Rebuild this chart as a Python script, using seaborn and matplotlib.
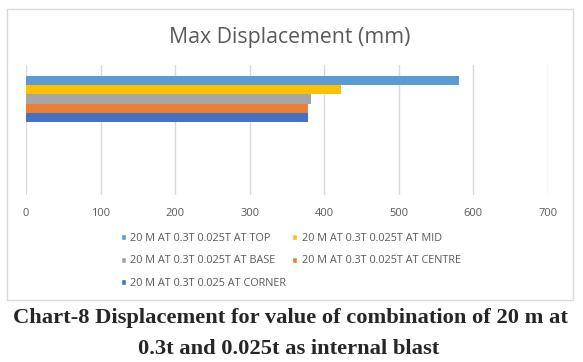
import pandas as pd
import seaborn as sns
import matplotlib.pyplot as plt
from matplotlib.patches import Rectangle, Patch

# данные
series = ['20 M AT 0.3T 0.025T AT TOP', '20 M AT 0.3T 0.025T AT MID',
          '20 M AT 0.3T 0.025T AT BASE', '20 M AT 0.3T 0.025T AT CENTRE',
          '20 M AT 0.3T 0.025 AT CORNER']
values = [581, 423, 382, 378, 378]
colors = ['#5B9BD5', '#FFC000', '#A5A5A5', '#ED7D31', '#4472C4']
xticks = [0, 100, 200, 300, 400, 500, 600, 700]

df = pd.DataFrame({'series': series, 'value': values, 'cat': ['A'] * len(series)})

sns.set_style('white')
plt.rcParams['font.family'] = ['Open Sans', 'DejaVu Sans']

fig = plt.figure(figsize=(5.83, 3.62), dpi=100)
ax = fig.add_axes([26 / 583, 1 - 195 / 362, (548 - 26) / 583, (195 - 65) / 362])

sns.barplot(data=df, x='value', y='cat', hue='series', hue_order=series,
            palette=colors, orient='h', width=0.7, dodge=True, legend=False,
            saturation=1, linewidth=0, ax=ax)

# 46 px на 0.7 единицы -> 65.7 px на единицу
ax.set_xlim(0, 700)
ax.set_ylim(1.46, -0.518)
ax.set_xticks(xticks)
ax.set_xticklabels([str(t) for t in xticks], color='#595959', fontsize=8)
ax.set_yticks([])
ax.set_xlabel('')
ax.set_ylabel('')
ax.tick_params(axis='x', length=0, pad=9)
ax.grid(axis='x', color='#d9d9d9', linewidth=1)
ax.set_axisbelow(True)
for s in ax.spines.values():
    s.set_visible(False)

# рамка диаграммы
fig.patches.append(Rectangle((7 / 583, 1 - 300 / 362), 566 / 583, 291 / 362,
                             transform=fig.transFigure, fill=False,
                             edgecolor='#d9d9d9', linewidth=1))

fig.text(290 / 583, 1 - 37 / 362, 'Max Displacement (mm)', ha='center', va='center',
         fontsize=15.3, color='#595959')

# легенда (по строкам)
handles = [Patch(facecolor=c, label=s) for s, c in zip(series, colors)]
order = [0, 2, 4, 1, 3]
fig.legend([handles[i] for i in order], [series[i] for i in order],
           ncol=2, loc='upper left', bbox_to_anchor=(111 / 583, 1 - 223 / 362),
           frameon=False, fontsize=7.8, handlelength=0.5, handleheight=0.5,
           handletextpad=0.4, columnspacing=0.5, labelspacing=1.08,
           labelcolor='#595959')

fig.text(290 / 583, 1 - 318 / 362, 'Chart-8 Displacement for value of combination of 20 m at',
         ha='center', va='center', fontsize=16.2, fontweight='bold',
         family=['Liberation Serif'])
fig.text(289 / 583, 1 - 349 / 362, '0.3t and 0.025t as internal blast',
         ha='center', va='center', fontsize=16.2, fontweight='bold',
         family=['Liberation Serif'])

fig.savefig('out.png', dpi=100)
